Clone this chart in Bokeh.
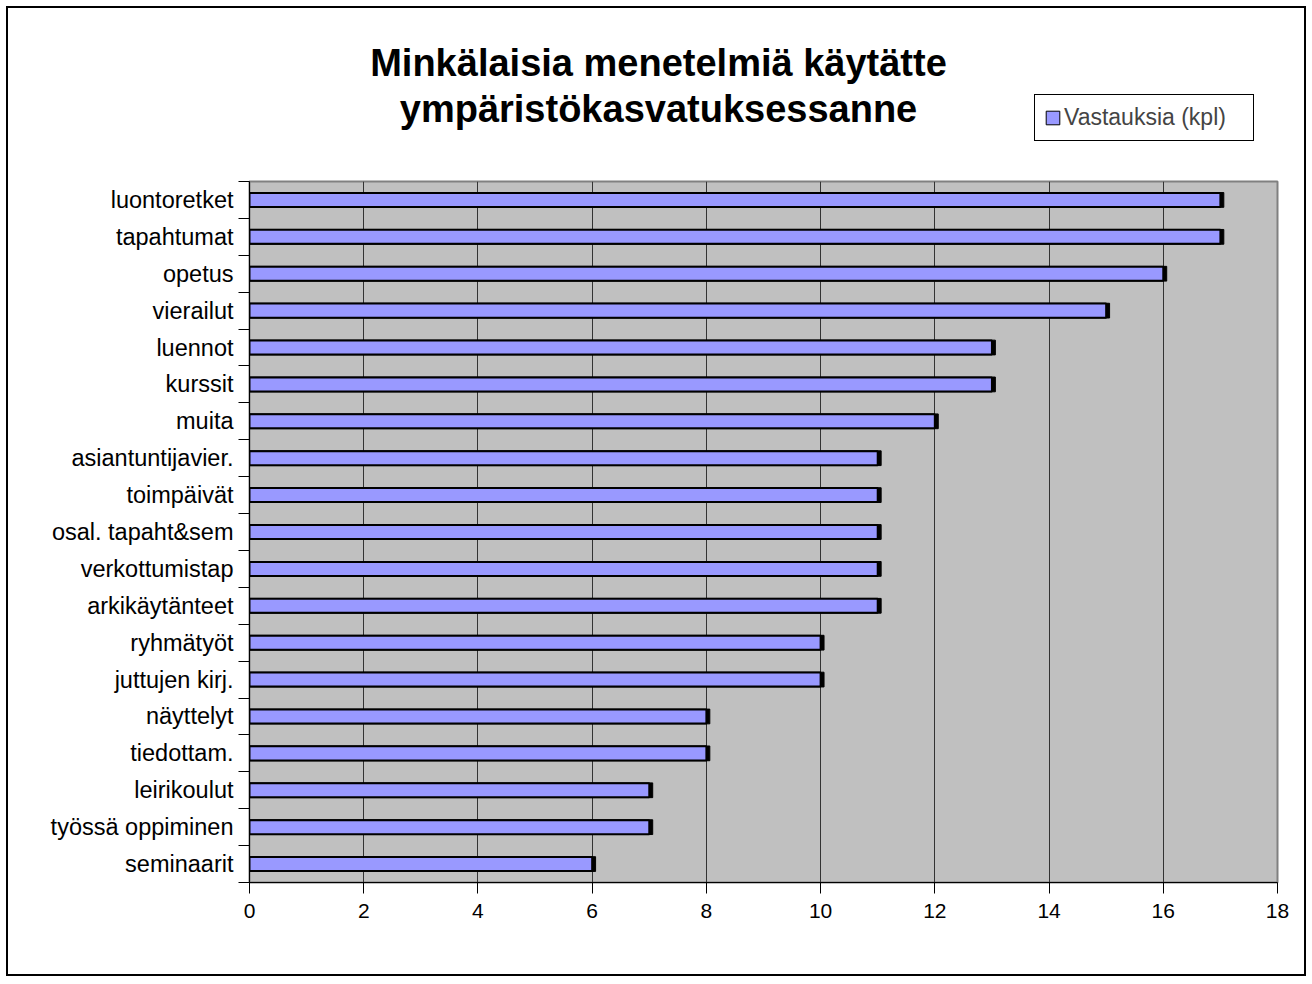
from bokeh.plotting import figure
from bokeh.layouts import column
from bokeh.models import (Range1d, FixedTicker, CustomJSTickFormatter, Label,
                          Legend, LegendItem, ColumnDataSource)
from bokeh.embed import file_html
from bokeh.resources import INLINE

# Data (top to bottom as shown in the chart)
categories = ["luontoretket", "tapahtumat", "opetus", "vierailut", "luennot",
              "kurssit", "muita", "asiantuntijavier.", "toimpäivät",
              "osal. tapaht&sem", "verkottumistap", "arkikäytänteet",
              "ryhmätyöt", "juttujen kirj.", "näyttelyt", "tiedottam.",
              "leirikoulut", "työssä oppiminen", "seminaarit"]
values = [17, 17, 16, 15, 13, 13, 12, 11, 11, 11, 11, 11, 10, 10, 8, 8, 7, 7, 6]
x_ticks = [0, 2, 4, 6, 8, 10, 12, 14, 16, 18]
series_name = "Vastauksia (kpl)"
title_lines = ["Minkälaisia menetelmiä käytätte", "ympäristökasvatuksessanne"]

n = len(categories)
ypos = [n - 1 - i + 0.5 for i in range(n)]
labels_bottom_up = list(reversed(categories))
shadow_right = [v + 0.06 for v in values]

src = ColumnDataSource(dict(y=ypos, v=values, s=shadow_right, name=categories))

FONT = "Liberation Sans"
BAR_COLOR = "#9999FF"
OFF = 8          # page offset of canvas origin (6px margin + 2px border)
W = 1296
TOP_H = 163
MAIN_H = 803
LEFT = 241       # frame left edge (shared by both figures in the column)
RIGHT = 27
HEAD_BOTTOM = OFF + TOP_H

# ---------- header figure: title + legend ----------
head = figure(width=W, height=TOP_H, output_backend="svg", toolbar_location=None,
              x_range=Range1d(0, 1), y_range=Range1d(0, 1),
              min_border_left=LEFT, min_border_right=RIGHT,
              min_border_top=0, min_border_bottom=0)
head.axis.visible = False
head.grid.visible = False
head.outline_line_color = None
head.background_fill_color = "white"
head.border_fill_color = "white"

for t, yy in zip(title_lines, [62, 108]):
    head.add_layout(Label(x=658 - OFF - LEFT, y=HEAD_BOTTOM - yy,
                          x_units="screen", y_units="screen",
                          text=t, text_align="center", text_baseline="middle",
                          text_font=FONT, text_font_style="bold",
                          text_font_size="38px", text_color="black"))

# legend-only renderer (one zero-size bar placed outside the visible range)
dummy_src = ColumnDataSource(dict(y=[-1.0], l=[0.0], r=[0.0]))
dummy = head.hbar(y="y", left="l", right="r", height=0.0, source=dummy_src,
                  fill_color=BAR_COLOR, line_color="black", line_width=1)
legend = Legend(items=[LegendItem(label=series_name, renderers=[dummy])],
                location=(1034 - OFF - LEFT, HEAD_BOTTOM - 141),
                orientation="vertical",
                border_line_color="black", border_line_width=1,
                border_line_alpha=1.0,
                background_fill_color="white", background_fill_alpha=1,
                label_text_font=FONT, label_text_font_size="23px",
                label_height=22, label_width=180,
                glyph_width=17, glyph_height=17,
                padding=9, spacing=0, label_standoff=3, margin=0)
head.add_layout(legend)

# ---------- main bar chart ----------
p = figure(width=W, height=MAIN_H, output_backend="svg", toolbar_location=None,
           x_range=Range1d(0, 18), y_range=Range1d(0, n),
           min_border_left=LEFT, min_border_right=RIGHT, min_border_top=10,
           min_border_bottom=92)

p.background_fill_color = "#C0C0C0"
p.border_fill_color = "white"
p.outline_line_color = "#808080"
p.outline_line_width = 2

p.xgrid.ticker = FixedTicker(ticks=x_ticks)
p.xgrid.grid_line_color = "#333333"
p.xgrid.grid_line_width = 1
p.ygrid.grid_line_color = None

p.hbar(y="y", left=0, right="s", height=0.40, source=src,
       fill_color="black", line_color="black", line_width=1)
p.hbar(y="y", left=0, right="v", height=0.38, source=src,
       fill_color=BAR_COLOR, line_color="black", line_width=2)

xa = p.xaxis[0]
xa.ticker = FixedTicker(ticks=x_ticks)
xa.axis_line_color = "black"
xa.major_tick_line_color = "black"
xa.major_tick_out = 11
xa.major_tick_in = 0
xa.minor_tick_line_color = None
xa.major_label_standoff = 10
xa.major_label_text_font = FONT
xa.major_label_text_font_size = "21px"
xa.major_label_text_color = "black"

ya = p.yaxis[0]
ya.ticker = FixedTicker(ticks=ypos, minor_ticks=list(range(n + 1)))
ya.formatter = CustomJSTickFormatter(args=dict(labels=labels_bottom_up),
                                     code="return labels[Math.floor(tick)];")
ya.axis_line_color = "black"
ya.major_tick_line_color = None
ya.major_tick_out = 0
ya.major_tick_in = 0
ya.minor_tick_line_color = "black"
ya.minor_tick_out = 11
ya.minor_tick_in = 0
ya.major_label_standoff = 5
ya.major_label_text_font = FONT
ya.major_label_text_font_size = "23.5px"
ya.major_label_text_color = "black"

layout = column(head, p, spacing=0,
                styles={"border": "2px solid black",
                        "margin-left": "6px", "margin-top": "6px"})

open("out.html", "w").write(file_html(layout, INLINE))
